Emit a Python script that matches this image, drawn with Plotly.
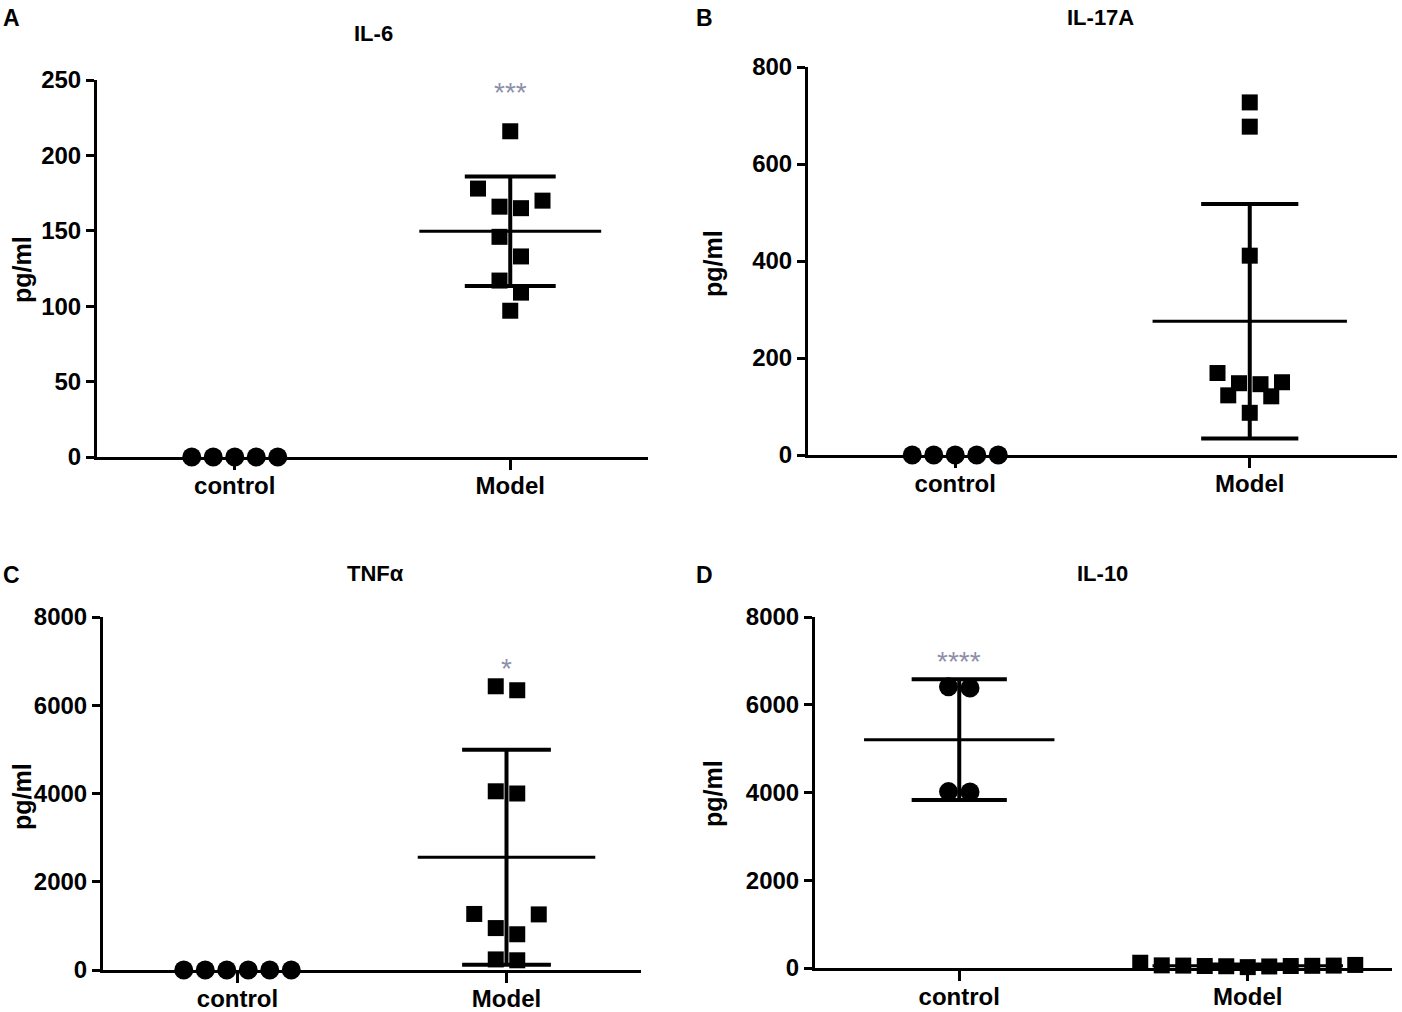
import numpy as np
import plotly.graph_objects as go

W, H = 1402, 1012

groups = ["control", "Model"]

# pg/ml values
il6_control = [0, 0, 0, 0, 0]
il6_model = [216, 178, 170, 166, 165, 146, 133, 117, 109, 97]
il17a_control = [0, 0, 0, 0, 0]
il17a_model = [727, 677, 411, 169, 150, 148, 146, 123, 121, 87]
tnfa_control = [0, 0, 0, 0, 0, 0]
tnfa_model = [6430, 6340, 4050, 4000, 1270, 1260, 950, 810, 240, 220]
il10_control = [6410, 6380, 4020, 4010]
il10_model = [60, 55, 50, 45, 40, 20, 35, 45, 55, 70, 120]

titles = ["IL-6", "IL-17A", "TNFα", "IL-10"]
letters = ["A", "B", "C", "D"]
y_max = [250, 800, 8000, 8000]
y_step = [50, 200, 2000, 2000]
stars = ["***", "", "*", "****"]
star_group = [1, None, 1, 0]

data = [
    (il6_control, il6_model),
    (il17a_control, il17a_model),
    (tnfa_control, tnfa_model),
    (il10_control, il10_model),
]

# panel boxes in pixels: x0, x1, y_top, y_bottom
boxes = [(97, 648, 80, 457), (808, 1397, 67, 455),
         (103, 641, 617, 970), (815, 1392, 617, 968)]
title_pos = [(373, 33), (1100, 17), (375, 573), (1102, 573)]
letter_pos = [(11, 18), (704, 18), (11, 575), (705, 575)]
ylabel_pos = [(22, 270), (713, 263), (22, 797), (713, 793)]
star_shift = [41, 0, 20, 20]   # px above the top of the group

FONT = "Liberation Sans, Arial, sans-serif"
STEP_PX = 21.5   # horizontal spacing of dots within a row
MEAN_HALF = 0.33
CAP_HALF = 0.165


def swarm_offsets(values, px_per_unit):
    values = np.asarray(values, dtype=float)
    order = np.argsort(-values, kind="stable")
    rows = []
    for i in order:
        if rows and (values[rows[-1][0]] - values[i]) * px_per_unit < STEP_PX:
            rows[-1].append(i)
        else:
            rows.append([i])
    offsets = np.zeros(len(values))
    for r in rows:
        n = len(r)
        slots = sorted(np.arange(n) - (n - 1) / 2, key=lambda s: (-abs(s), s))
        for i, s in zip(r, slots):
            offsets[i] = s
    return offsets


def px(x, y):
    return x / W, 1 - y / H


fig = go.Figure()
annotations = []

for k, (ctrl, model) in enumerate(data):
    n = "" if k == 0 else str(k + 1)
    xa, ya = "x" + n, "y" + n
    x0, x1, yt, yb = boxes[k]
    px_per_unit = (yb - yt) / y_max[k]
    px_per_cat = (x1 - x0) / 2.0

    for g, vals in enumerate([ctrl, model]):
        cat = g + 1
        off = swarm_offsets(vals, px_per_unit)
        xs = cat + off * STEP_PX / px_per_cat
        fig.add_trace(go.Scatter(
            x=xs, y=vals, mode="markers", xaxis=xa, yaxis=ya,
            cliponaxis=False, showlegend=False, hoverinfo="y",
            marker=dict(symbol="circle" if g == 0 else "square",
                        size=19 if g == 0 else 16, color="black",
                        line=dict(width=0)),
        ))
        m = float(np.mean(vals))
        sd = float(np.std(vals, ddof=1))
        lo, hi = m - sd, m + sd
        if sd > 0:
            fig.add_trace(go.Scatter(
                x=[cat, cat, None, cat - CAP_HALF, cat + CAP_HALF, None,
                   cat - CAP_HALF, cat + CAP_HALF],
                y=[lo, hi, None, hi, hi, None, lo, lo],
                mode="lines", xaxis=xa, yaxis=ya, cliponaxis=False,
                showlegend=False, hoverinfo="skip",
                line=dict(color="black", width=4),
            ))
            fig.add_trace(go.Scatter(
                x=[cat - MEAN_HALF, cat + MEAN_HALF], y=[m, m],
                mode="lines", xaxis=xa, yaxis=ya, cliponaxis=False,
                showlegend=False, hoverinfo="skip",
                line=dict(color="black", width=3),
            ))
        if star_group[k] == g:
            top = max(max(vals), hi)
            annotations.append(dict(
                text=stars[k], x=cat, y=top, xref=xa, yref=ya,
                showarrow=False, yshift=star_shift[k] - 2, yanchor="middle",
                font=dict(family=FONT, size=28, color="#8d8fa8"),
            ))

    axis_common = dict(
        showline=True, linecolor="black", linewidth=3, showgrid=False,
        zeroline=False, ticks="outside", ticklen=8, tickwidth=3,
        tickcolor="black", automargin=False,
    )
    fig.layout["xaxis" + n] = dict(
        axis_common, domain=[x0 / W, x1 / W], range=[0.5, 2.5],
        tickvals=[1, 2], ticktext=groups, anchor=ya, ticklen=10,
        ticklabelstandoff=-5,
        tickfont=dict(family=FONT, size=24, color="black", weight="bold"),
    )
    fig.layout["yaxis" + n] = dict(
        axis_common, domain=[1 - yb / H, 1 - yt / H], range=[0, y_max[k]],
        dtick=y_step[k], tick0=0, anchor=xa,
        tickfont=dict(family=FONT, size=24, color="black", weight="bold"),
    )

    tx, ty = px(*title_pos[k])
    annotations.append(dict(text=titles[k], x=tx, y=ty, xref="paper", yref="paper",
                            showarrow=False, xanchor="center", yanchor="middle",
                            font=dict(family=FONT, size=22, color="black", weight="bold")))
    lx, ly = px(*letter_pos[k])
    annotations.append(dict(text=letters[k], x=lx, y=ly, xref="paper", yref="paper",
                            showarrow=False, xanchor="center", yanchor="middle",
                            font=dict(family=FONT, size=23, color="black", weight="bold")))
    gx, gy = px(*ylabel_pos[k])
    annotations.append(dict(text="pg/ml", x=gx, y=gy, xref="paper", yref="paper",
                            showarrow=False, xanchor="center", yanchor="middle",
                            textangle=-90,
                            font=dict(family=FONT, size=25, color="black", weight="bold")))

fig.update_layout(
    width=W, height=H, autosize=False,
    margin=dict(l=0, r=0, t=0, b=0),
    paper_bgcolor="white", plot_bgcolor="white",
    annotations=annotations,
)

fig.write_html("out.html", config={"displayModeBar": False},
               post_script="document.body.style.margin='0';")
